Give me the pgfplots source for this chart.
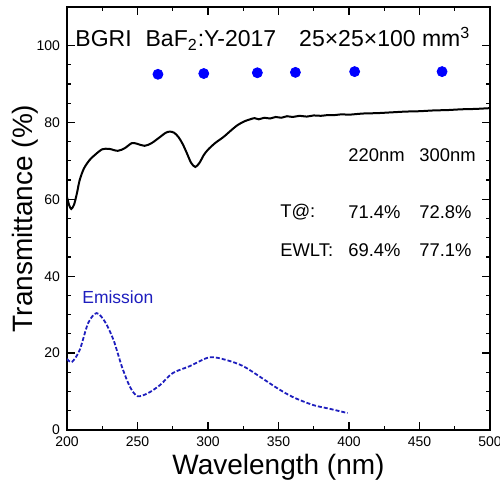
\documentclass[border=0pt]{standalone}
\usepackage{fontspec}
\setmainfont{Liberation Sans}
\usepackage{pgfplots}
\pgfplotsset{compat=1.18}
\usetikzlibrary{calc}
\definecolor{emblue}{RGB}{30,30,190}
\tikzset{txt/.style={inner sep=0pt, font=\fontsize{9.2}{11}\selectfont}}
\begin{document}
\begin{tikzpicture}
\begin{axis}[
  name=ax,
  scale only axis,
  width=211.5pt, height=211.5pt,
  xmin=200, xmax=500, ymin=0, ymax=110,
  xtick={200,250,...,500}, ytick={0,20,...,100},
  minor x tick num=1, minor y tick num=3,
  tick align=inside,
  major tick length=4pt, minor tick length=2pt,
  tick style={black, line width=0.6pt},
  axis line style={line width=0.8pt},
  tick label style={font=\fontsize{7}{8}\selectfont},
  /pgf/number format/assume math mode=true,
  xlabel={Wavelength (nm)},
  ylabel={Transmittance (\%)},
  xlabel style={font=\fontsize{14}{16}\selectfont, at={(axis description cs:0.5,-0.087)}, anchor=center},
  ylabel style={font=\fontsize{14}{16}\selectfont, at={(axis description cs:-0.099,0.5)}, anchor=center},
]

% transmittance
\addplot[black, line width=1pt, smooth] coordinates {
(200,60.5)(201.5,58.5)(203,57.5)(205,58.6)(207,61.5)(209,65)(212,68)(216,70.2)(220,71.6)
(225,73)(230,73.1)(236,72.6)(241,73.3)(246,74.6)(250,74.4)(255,73.9)(260,74.6)(266,76.2)
(270,77.3)(273,77.6)(276,77.3)(279,76.2)(282,74.4)(285,72)(288,69.5)(291,68.4)(294,69.5)
(297,71.5)(300,72.9)(305,74.6)(311,76.2)(316,77.8)(321,79.3)(326,80.3)(330,80.8)(333,81.1)
(336,80.8)(340,81.2)(344,81.0)(348,81.4)(352,81.2)(356,81.6)(360,81.4)(365,81.7)(370,81.5)
(375,81.8)(380,81.7)(385,81.9)(390,81.9)(395,82.1)(400,82.0)(410,82.3)(420,82.4)(430,82.6)
(440,82.8)(450,82.9)(460,83.1)(470,83.2)(480,83.4)(490,83.5)(500,83.7)};

% emission
\addplot[emblue, line width=0.9pt, dash pattern=on 2pt off 1pt, smooth] coordinates {
(200,18.5)(203.5,17.7)(209,20.8)(215,27.8)(221,30.4)(227,28.1)(233,23.4)(239,16.4)
(244.7,11.2)(250,8.8)(257.5,9.6)(266,11.7)(275,14.8)(287,16.6)(301,18.9)(313,18.2)
(325,16.6)(337,13.8)(349,10.9)(360,8.6)(374.5,6.5)(386.5,5.5)(399,4.4)};

% blue dots
\addplot[only marks, mark=*, mark size=2.5pt, blue] coordinates {
(264.5,92.5)(297,92.7)(335,92.9)(362,93.0)(404,93.2)(466,93.2)};

\node[anchor=base west, inner sep=0pt, font=\fontsize{11.5}{13}\selectfont] at (axis cs:205.7,99.6)
  {BGRI\hspace{7pt}BaF\textsubscript{2}:Y-2017\hspace{11.5pt}25×25×100 mm\textsuperscript{3}};
\node[anchor=west, inner sep=0pt, font=\fontsize{8.75}{10}\selectfont, text=emblue] at (axis cs:210.6,34.6) {Emission};

\node[txt, anchor=west] at (axis cs:399.3,71.5) {220nm};
\node[txt, anchor=west] at (axis cs:449.6,71.5) {300nm};
\node[txt, anchor=west] at (axis cs:351,56.7) {T@:};
\node[txt, anchor=west] at (axis cs:399.3,56.7) {71.4\%};
\node[txt, anchor=west] at (axis cs:449.6,56.7) {72.8\%};
\node[txt, anchor=west] at (axis cs:351,46.8) {EWLT:};
\node[txt, anchor=west] at (axis cs:399.3,46.8) {69.4\%};
\node[txt, anchor=west] at (axis cs:449.6,46.8) {77.1\%};
\end{axis}
\pgfresetboundingbox
\useasboundingbox ($(ax.south west)+(-33.5pt,-28.5pt)$) rectangle ($(ax.north east)+(5pt,3.5pt)$);
\end{tikzpicture}
\end{document}
